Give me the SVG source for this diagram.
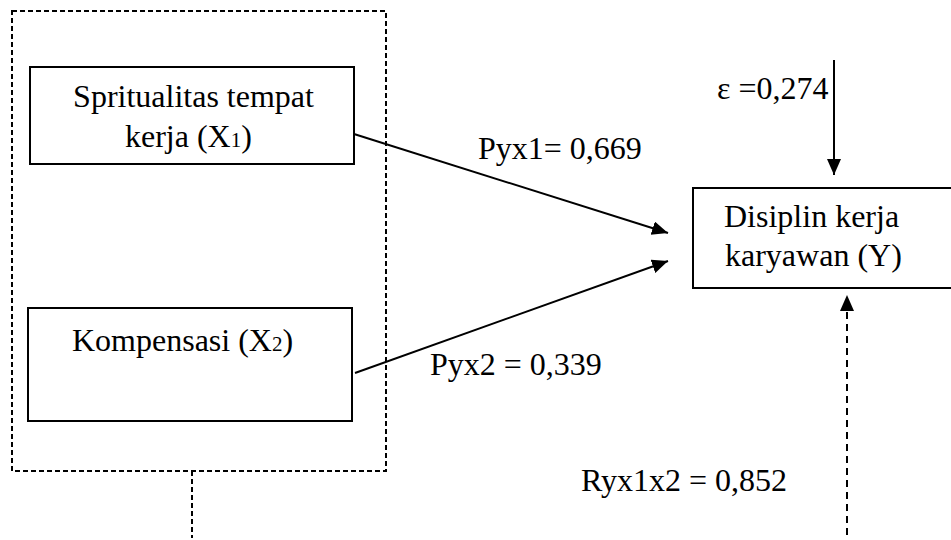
<svg xmlns="http://www.w3.org/2000/svg" width="951" height="540" viewBox="0 0 951 540">
<style>
.box{fill:#fff;stroke:#000;stroke-width:2}
.dash{fill:none;stroke:#000;stroke-width:2;stroke-dasharray:5,3}
.t{font-family:"Liberation Serif","Times New Roman",serif;font-size:32px;fill:#000}
.sub{font-size:21px}
.ln{stroke:#000;stroke-width:2;fill:none}
.dl{stroke:#000;stroke-width:2;fill:none;stroke-dasharray:7,5}
</style>
<defs>
<marker id="ah" markerUnits="userSpaceOnUse" markerWidth="18" markerHeight="16" refX="16" refY="7" orient="auto">
<path d="M0,0 L16,7 L0,14 z" fill="#000" stroke="none"/>
</marker>
</defs>
<rect x="0" y="0" width="951" height="540" fill="#fff"/>
<g id="group-x">
<rect class="dash" x="12" y="11" width="374" height="460"/>
<line class="dash" x1="192" y1="471" x2="192" y2="538"/>
</g>
<g id="node-x1">
<rect class="box" x="30" y="67" width="324" height="97"/>
<text class="t" x="193.5" y="107" text-anchor="middle">Spritualitas tempat</text>
<text class="t" x="125" y="147">kerja (X<tspan class="sub">1</tspan>)</text>
</g>
<g id="node-x2">
<rect class="box" x="28" y="308" width="324" height="113"/>
<text class="t" x="72" y="351">Kompensasi (X<tspan class="sub">2</tspan>)</text>
</g>
<g id="node-y">
<rect class="box" x="693" y="188" width="260" height="100"/>
<text class="t" x="724" y="227">Disiplin kerja</text>
<text class="t" x="725" y="266">karyawan (Y)</text>
</g>
<g id="connectors">
<line class="ln" x1="354" y1="134" x2="668" y2="233" marker-end="url(#ah)"/>
<line class="ln" x1="355" y1="373" x2="668" y2="261" marker-end="url(#ah)"/>
<line class="ln" x1="834" y1="60" x2="834" y2="175" marker-end="url(#ah)"/>
<line class="dl" x1="847" y1="535" x2="847" y2="295" marker-end="url(#ah)"/>
</g>
<g id="labels">
<text class="t" x="478" y="159">Pyx1= 0,669</text>
<text class="t" x="430" y="375">Pyx2 = 0,339</text>
<text class="t" x="717" y="99">ε =0,274</text>
<text class="t" x="581" y="491">Ryx1x2 = 0,852</text>
</g>
</svg>
